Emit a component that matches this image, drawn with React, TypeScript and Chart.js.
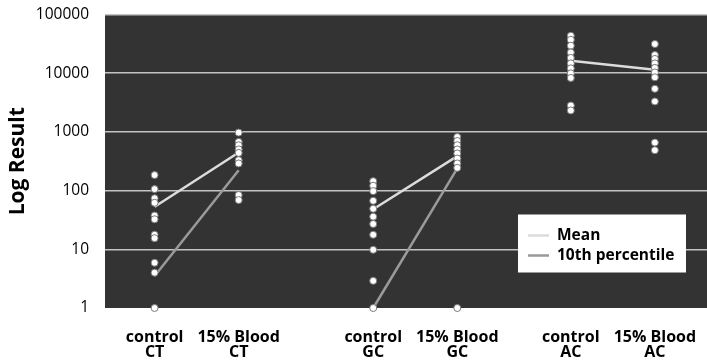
import React, { useEffect, useRef } from "react";
import { Chart, registerables } from "chart.js";

Chart.register(...registerables);

const categories: string[][] = [
  ["control", "CT"],
  ["15% Blood", "CT"],
  ["control", "GC"],
  ["15% Blood", "GC"],
  ["control", "AC"],
  ["15% Blood", "AC"],
];
// position of each category along the x axis
const categoryX = [1, 2, 3.6, 4.6, 5.95, 6.95];

const ctControl = [184, 106, 74, 62, 37.6, 32.5, 17.7, 15.5, 5.9, 4.0, 1];
const ctBlood = [973, 676, 593, 503, 439, 330, 290, 84, 69];
const gcControl = [145, 121, 98, 67, 49, 36, 27, 17.7, 9.8, 2.9, 1];
const gcBlood = [819, 701, 593, 502, 429, 352, 290, 244, 1];
const acControl = [43400, 37100, 29400, 22600, 18200, 14700, 12100, 9950, 8300, 2820, 2320];
const acBlood = [31400, 20400, 17500, 14700, 12300, 10300, 8500, 5420, 3300, 659, 488];
const pointSeries = [ctControl, ctBlood, gcControl, gcBlood, acControl, acBlood];

// mean and 10th percentile per assay (control -> 15% blood)
const meanControl: (number | null)[] = [53, 48, 16300];
const meanBlood: (number | null)[] = [446, 386, 11400];
const p10Control: (number | null)[] = [3.5, 1, null];
const p10Blood: (number | null)[] = [223, 240, null];

const yTicks = [1, 10, 100, 1000, 10000, 100000];
const seriesNames = ["Mean", "10th percentile"];
const seriesColors = ["#dcdcdc", "#9a9a9a"];

const FONT = "'Open Sans', 'Noto Sans', sans-serif";

function pairLine(ctrl: (number | null)[], blood: (number | null)[]) {
  const out: { x: number; y: number | null }[] = [];
  for (let g = 0; g < ctrl.length; g++) {
    out.push({ x: categoryX[g * 2], y: ctrl[g] });
    out.push({ x: categoryX[g * 2 + 1], y: blood[g] });
    out.push({ x: (categoryX[g * 2 + 1] + (categoryX[g * 2 + 2] ?? categoryX[g * 2 + 1] + 1)) / 2, y: null });
  }
  return out;
}

const bgPlugin = {
  id: "plotBg",
  beforeDraw(chart: any) {
    const { ctx, chartArea } = chart;
    ctx.save();
    ctx.fillStyle = "#333333";
    ctx.fillRect(chartArea.left, chartArea.top, chartArea.right - chartArea.left, chartArea.bottom - chartArea.top);
    ctx.restore();
  },
};

const legendPlugin = {
  id: "boxLegend",
  afterDatasetsDraw(chart: any) {
    const { ctx, chartArea } = chart;
    const right = chartArea.right - 21;
    const bottom = chartArea.bottom - 35.5;
    const w = 168;
    const h = 58;
    const left = right - w;
    const top = bottom - h;
    ctx.save();
    ctx.fillStyle = "#ffffff";
    ctx.fillRect(left, top, w, h);
    ctx.font = `bold 15.5px ${FONT}`;
    ctx.textBaseline = "middle";
    ctx.textAlign = "left";
    seriesNames.forEach((name, i) => {
      const y = top + 21 + i * 20;
      ctx.strokeStyle = seriesColors[i];
      ctx.lineWidth = 2.5;
      ctx.beginPath();
      ctx.moveTo(left + 10, y);
      ctx.lineTo(left + 31, y);
      ctx.stroke();
      ctx.fillStyle = "#000";
      ctx.fillText(name, left + 39, y);
    });
    ctx.restore();
  },
};

export default function App() {
  const ref = useRef<HTMLCanvasElement>(null);
  useEffect(() => {
    document.body.style.margin = "0";
    document.body.style.overflow = "hidden";
    document.documentElement.style.overflow = "hidden";
    if (!ref.current) return;
    const scatterSets = pointSeries.map((vals, i) => ({
      type: "scatter" as const,
      label: categories[i].join(" "),
      data: vals.map((v) => ({ x: categoryX[i], y: v })),
      pointRadius: 3.5,
      pointBorderWidth: 1,
      pointBackgroundColor: "#ffffff",
      pointBorderColor: "#7a7a7a",
      clip: false as any,
    }));
    const lineSets = [
      { ctrl: meanControl, blood: meanBlood, idx: 0 },
      { ctrl: p10Control, blood: p10Blood, idx: 1 },
    ].map((s) => ({
      type: "line" as const,
      label: seriesNames[s.idx],
      data: pairLine(s.ctrl, s.blood),
      borderColor: seriesColors[s.idx],
      borderWidth: 2.5,
      pointRadius: 0,
      spanGaps: false,
      fill: false,
      clip: false as any,
    }));
    const chart = new Chart(ref.current, {
      type: "scatter",
      data: { datasets: [...scatterSets, ...lineSets] as any },
      options: {
        animation: false,
        responsive: false,
        layout: { autoPadding: false, padding: { top: 14.5, right: 0, left: 0, bottom: 0 } },
        plugins: { legend: { display: false }, tooltip: { enabled: false } },
        scales: {
          x: {
            type: "linear",
            min: 0.41,
            max: 7.57,
            grid: { display: false, drawTicks: false },
            border: { display: false },
            afterBuildTicks: (scale: any) => {
              scale.ticks = categoryX.map((v) => ({ value: v }));
            },
            afterFit: (scale: any) => {
              scale.height = 56;
              scale.paddingLeft = 0;
              scale.paddingRight = 0;
            },
            ticks: {
              autoSkip: false,
              maxRotation: 0,
              padding: 22,
              color: "#000",
              font: { family: FONT, size: 16, weight: "bold", lineHeight: "15px" as any },
              callback: (_v: any, i: number) => categories[i],
            },
          },
          y: {
            type: "logarithmic",
            min: 1,
            max: 100000,
            border: { display: false },
            grid: {
              drawTicks: false,
              lineWidth: 1.6,
              color: (c: any) => (c.tick && c.tick.value === 1 ? "rgba(0,0,0,0)" : "#c4c4c4"),
            },
            afterBuildTicks: (scale: any) => {
              scale.ticks = yTicks.map((v) => ({ value: v }));
            },
            afterFit: (scale: any) => {
              scale.width = 105;
              scale.paddingTop = 0;
              scale.paddingBottom = 0;
            },
            title: {
              display: true,
              text: "Log Result",
              color: "#000",
              padding: { top: 5, bottom: 0 },
              font: { family: FONT, size: 21, weight: "bold" },
            },
            ticks: {
              padding: 16,
              color: "#000",
              font: { family: FONT, size: 15.5 },
              callback: (v: any) => String(v),
            },
          },
        },
      },
      plugins: [bgPlugin, legendPlugin],
    });
    return () => chart.destroy();
  }, []);
  return (
    <div style={{ width: 707, height: 364, overflow: "hidden" }}>
      <canvas ref={ref} width={707} height={364} style={{ display: "block", width: 707, height: 364 }} />
    </div>
  );
}
